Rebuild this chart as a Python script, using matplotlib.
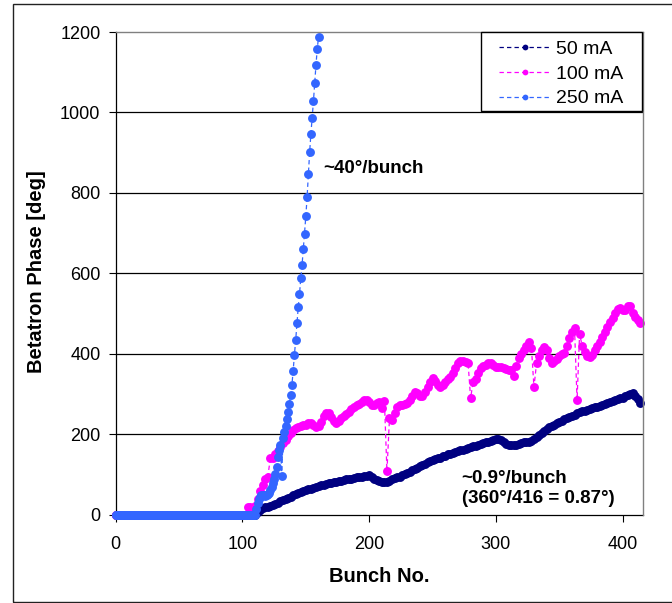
import numpy as np
import matplotlib
matplotlib.use("Agg")
import matplotlib.pyplot as plt
from matplotlib.patches import Rectangle

plt.rcParams['font.family'] = ['Liberation Sans', 'DejaVu Sans']

# ---- data -------------------------------------------------------------
# 50 mA and 100 mA: phase read every second bunch (0, 2, 4, ... 414)
phase_50mA = [0] * 56 + [  # bunches 0-110
    8, 12, 16, 18, 20, 22, 24, 27, 30, 33,            # 112-130
    36, 39, 42, 45, 48, 51, 54, 56, 58, 61,           # 132-150
    63, 65, 67, 69, 71, 73, 74, 76, 78, 80,           # 152-170
    81, 82, 84, 85, 87, 88, 89, 90, 91, 93,           # 172-190
    94, 95, 96, 97, 99, 95, 90, 87, 85, 82,           # 192-210
    81, 82, 85, 88, 91, 93, 95, 98, 101, 104,         # 212-230
    107, 111, 114, 117, 121, 124, 127, 130, 133, 136, # 232-250
    138, 140, 142, 145, 147, 150, 152, 154, 156, 158, # 252-270
    160, 162, 164, 166, 168, 170, 172, 174, 176, 178, # 272-290
    180, 182, 184, 186, 187, 188, 186, 181, 176, 174, # 292-310
    173, 173, 174, 176, 178, 180, 181, 182, 184, 187, # 312-330
    192, 197, 203, 208, 213, 217, 220, 224, 227, 230, # 332-350
    234, 237, 240, 243, 246, 249, 252, 255, 257, 259, # 352-370
    261, 263, 265, 267, 269, 271, 273, 276, 278, 280, # 372-390
    282, 285, 287, 289, 291, 294, 297, 299, 302, 296, # 392-410
    288, 278,                                         # 412-414
]

phase_100mA = [0] * 52 + [  # bunches 0-102
    20, 18, 12, 22, 40, 60, 75, 88, 95, 140,          # 104-122
    140, 150, 158, 168, 178, 186, 195, 203, 210, 215, # 124-142
    218, 220, 222, 224, 227, 228, 224, 218, 220, 230, # 144-162
    245, 254, 252, 242, 232, 228, 232, 240, 246, 250, # 164-182
    255, 262, 268, 272, 276, 280, 284, 285, 280, 272, # 184-202
    274, 278, 280, 265, 283, 108, 240, 235, 252, 268, # 204-222
    272, 273, 276, 278, 285, 295, 305, 302, 294, 295, # 224-242
    305, 318, 330, 339, 332, 322, 317, 322, 330, 338, # 244-262
    342, 352, 365, 376, 383, 383, 380, 378, 290, 330, # 264-282
    338, 352, 364, 370, 373, 376, 376, 372, 367, 366, # 284-302
    366, 364, 362, 360, 359, 345, 370, 390, 400, 410, # 304-322
    420, 429, 415, 317, 376, 395, 410, 417, 410, 390, # 324-342
    376, 382, 388, 394, 400, 403, 420, 440, 455, 463, # 344-362
    285, 450, 420, 405, 395, 392, 398, 410, 420, 430, # 364-382
    442, 455, 466, 478, 490, 502, 512, 515, 508, 510, # 384-402
    518, 520, 502, 492, 485, 476,                     # 404-414
]

# 250 mA: every bunch from 0 to 160
phase_250mA = [0] * 111 + [  # bunches 0-110
    15, 28, 38, 45, 48, 50, 49, 47, 50, 52,             # 111-120
    55, 62, 70, 80, 90, 102, 118, 143, 160, 173,        # 121-130
    96, 190, 205, 220, 238, 256, 276, 298, 322, 358,    # 131-140
    398, 434, 476, 516, 548, 588, 620, 660, 697, 742,   # 141-150
    790, 847, 901, 947, 987, 1028, 1073, 1118, 1158, 1187,  # 151-160
]

bunch_50mA = np.arange(0, 2 * len(phase_50mA), 2)
bunch_100mA = np.arange(0, 2 * len(phase_100mA), 2)
bunch_250mA = np.arange(len(phase_250mA))

series_labels = ["50 mA", "100 mA", "250 mA"]
series_colors = ["#000080", "#FF00FF", "#3366FF"]

y_ticks = [0, 200, 400, 600, 800, 1000, 1200]
x_ticks = [0, 100, 200, 300, 400]

# ---- figure -----------------------------------------------------------
W, H = 672, 603
fig = plt.figure(figsize=(W / 100, H / 100), dpi=100)
ax = fig.add_axes([0.1722, 0.1464, 0.9568 - 0.1722, 0.9469 - 0.1464])

# outer chart frame
fig.patches.append(Rectangle((13 / W, 1 / H), 1.0, 598 / H,
                             transform=fig.transFigure, fill=False,
                             edgecolor="#222222", linewidth=1.0))

dash = (0, (3.5, 2.5))
style = dict(linestyle=dash, linewidth=0.9, marker="o", markersize=6.4,
             markeredgewidth=0, clip_on=False)
for xs, ys, col, lab in zip((bunch_50mA, bunch_100mA, bunch_250mA),
                            (phase_50mA, phase_100mA, phase_250mA),
                            series_colors, series_labels):
    ax.plot(xs, ys, color=col, label=lab, **style)

ax.set_xlim(0, 416)
ax.set_ylim(0, 1200)
ax.set_xticks(x_ticks)
ax.set_yticks(y_ticks)
ax.tick_params(axis="both", direction="out", length=5, width=0.8,
               labelsize=13, color="black")
ax.tick_params(axis="x", pad=10)
ax.tick_params(axis="y", pad=6)

for y in y_ticks[1:-1]:
    ax.axhline(y, color="black", linewidth=0.9, zorder=0.5)

for side in ("top", "right"):
    ax.spines[side].set_color("#808080")
    ax.spines[side].set_linewidth(1.0)
for side in ("left", "bottom"):
    ax.spines[side].set_color("black")
    ax.spines[side].set_linewidth(0.9)
    ax.spines[side].set_zorder(0.6)

fig.text(37 / W, 1 - 272 / H, "Betatron Phase [deg]", rotation=90,
         ha="center", va="center", fontsize=14.5, fontweight="bold")
fig.text(379 / W, 1 - 577 / H, "Bunch No.", ha="center", va="center",
         fontsize=14.5, fontweight="bold")

ax.text(163.5, 849, "~40°/bunch", fontsize=13.5, fontweight="bold",
        ha="left", va="baseline")
ax.text(273, 79, "~0.9°/bunch", fontsize=13.5, fontweight="bold",
        ha="left", va="baseline")
t2 = ax.text(273, 30, "(360°/416 = 0.87°)", fontsize=13.5, fontweight="bold",
             ha="left", va="baseline")
t2.set_clip_path(Rectangle((0, 19), 416, 1181, transform=ax.transData))

# legend entries, with a separately drawn box around them
leg = ax.legend(loc="upper left", bbox_to_anchor=(499 / W, 1 - 40.5 / H),
                bbox_transform=fig.transFigure, borderaxespad=0,
                borderpad=0, fontsize=14, frameon=False,
                handlelength=2.63, handletextpad=0.31, labelspacing=0.36,
                markerscale=0.65)
leg.set_zorder(6)
ax.add_patch(Rectangle((481 / W, 1 - 111 / H), 161 / W, 79 / H,
                       transform=fig.transFigure, facecolor="white",
                       edgecolor="black", linewidth=1.0, clip_on=False,
                       zorder=5))

fig.savefig("out.png", dpi=100)
